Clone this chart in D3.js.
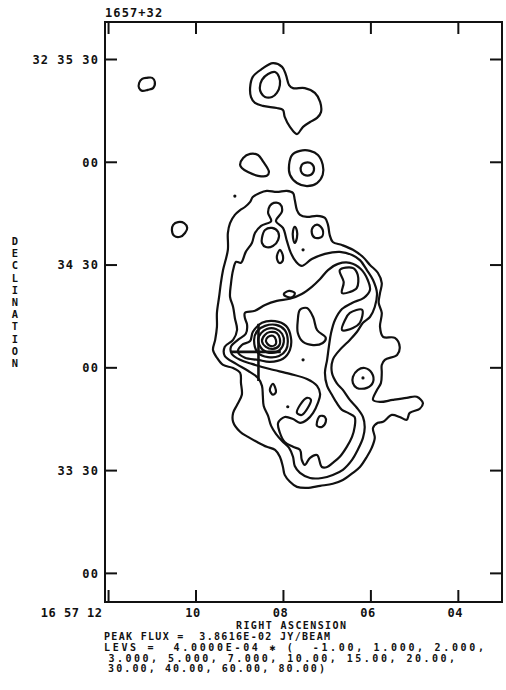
<!DOCTYPE html>
<html>
<head>
<meta charset="utf-8">
<script src="https://cdn.jsdelivr.net/npm/d3@7"></script>
<style>
body { margin: 0; background: #fff; }
text { font-family: "DejaVu Sans Mono", monospace; font-weight: bold; font-size: 10px; fill: #111; }
.lab { font-size: 12px; }
</style>
</head>
<body>
<div id="chart"></div>
<script>
// map extent: RA in seconds of 16h57m, Dec in arcsec from +32 33 00
const mapRA = [12.07, 2.99];
const mapDec = [-8.5, 160.8];

const raTicks = [12, 10, 8, 6, 4];
const raLabels = ["16 57 12", "10", "08", "06", "04"];
const decTicks = [150, 120, 90, 60, 30, 0];
const decLabels = ["32 35 30", "00", "34 30", "00", "33 30", "00"];

const title = "1657+32";
const yTitle = "DECLINATION";
const notes = [
  "RIGHT ASCENSION",
  "PEAK FLUX =  3.8616E-02 JY/BEAM",
  "LEVS =  4.0000E-04 \u2731 (  -1.00, 1.000, 2.000,",
  " 3.000, 5.000, 7.000, 10.00, 15.00, 20.00,",
  " 30.00, 40.00, 60.00, 80.00)"
];

// contours, [RA s, Dec arcsec]
const blobA = [[11.29,143.0],[11.22,144.2],[11.11,144.5],[10.99,144.5],[10.93,143.3],[10.97,141.5],[11.09,141.0],[11.22,140.7],[11.29,141.5]];
const blobB = [[10.54,100.1],[10.51,101.6],[10.40,102.4],[10.26,102.1],[10.19,100.7],[10.24,99.2],[10.35,98.1],[10.49,98.4]];
const northOuter = [[8.75,141.8],[8.69,144.8],[8.48,147.1],[8.23,148.8],[8.02,147.7],[7.93,145.3],[7.86,142.4],[7.77,141.5],[7.50,141.5],[7.27,140.1],[7.15,137.5],[7.13,134.5],[7.22,132.8],[7.38,131.6],[7.54,130.2],[7.68,128.1],[7.84,130.2],[7.96,133.1],[8.00,135.1],[8.14,135.7],[8.46,136.3],[8.64,137.2],[8.73,138.9]];
const northInner = [[8.53,141.5],[8.48,143.9],[8.34,145.6],[8.18,146.2],[8.09,144.8],[8.07,142.4],[8.14,140.1],[8.25,138.9],[8.41,138.9],[8.50,140.1]];
const blobE = [[8.98,119.1],[8.91,121.1],[8.75,122.3],[8.57,122.0],[8.46,120.2],[8.32,117.0],[8.37,115.9],[8.57,115.9],[8.80,117.0],[8.94,118.2]];
const ringOuter = [[7.86,119.1],[7.79,122.0],[7.61,123.2],[7.38,123.2],[7.20,122.0],[7.09,119.1],[7.09,116.2],[7.22,113.8],[7.45,112.9],[7.68,113.8],[7.84,116.2]];
const ringInner = [[7.57,119.1],[7.50,119.7],[7.34,119.4],[7.29,117.6],[7.36,116.2],[7.52,116.2],[7.59,117.3]];

const lev1 = [[9.26,99.2],[9.21,102.1],[9.10,104.5],[8.98,105.9],[8.87,106.8],[8.75,108.3],[8.69,109.7],[8.53,110.9],[8.37,111.5],[8.14,111.2],[7.91,111.5],[7.77,110.9],[7.73,108.9],[7.68,105.9],[7.61,104.5],[7.45,103.9],[7.22,104.2],[7.04,103.6],[6.97,101.6],[6.93,98.6],[6.86,96.6],[6.65,95.7],[6.40,94.3],[6.17,92.2],[6.01,89.9],[5.83,87.6],[5.74,84.6],[5.78,81.7],[5.81,78.8],[5.74,75.9],[5.78,71.8],[5.71,68.9],[5.44,68.6],[5.33,66.0],[5.39,63.6],[5.67,62.2],[5.74,60.7],[5.74,58.4],[5.76,55.4],[5.85,53.4],[5.94,50.5],[5.78,49.9],[5.49,50.5],[5.17,51.1],[4.94,51.4],[4.80,49.6],[4.87,47.9],[5.10,46.7],[5.17,44.7],[5.33,45.5],[5.51,46.1],[5.71,44.1],[5.83,43.8],[5.94,42.3],[5.90,39.4],[5.97,36.5],[6.08,33.9],[6.24,30.9],[6.40,29.2],[6.63,27.1],[6.86,26.0],[7.15,25.4],[7.45,24.8],[7.68,25.1],[7.84,26.6],[7.96,28.6],[8.00,30.9],[8.07,33.9],[8.18,35.9],[8.37,36.8],[8.59,38.2],[8.80,39.7],[8.98,41.2],[9.14,44.1],[9.14,46.7],[9.05,49.0],[8.94,52.0],[8.96,55.4],[8.98,58.4],[9.14,59.8],[9.37,60.7],[9.51,62.8],[9.60,65.1],[9.55,68.0],[9.51,71.8],[9.51,75.9],[9.46,80.6],[9.42,84.6],[9.37,88.4],[9.26,94.3]];
const lev2 = [[8.21,108.0],[8.07,107.7],[8.02,105.6],[8.16,102.7],[8.00,100.7],[7.91,96.9],[7.82,93.4],[7.70,90.8],[7.57,89.6],[7.34,91.6],[7.04,93.1],[6.70,93.7],[6.42,92.8],[6.24,91.3],[6.08,88.4],[5.94,85.5],[5.85,81.7],[5.90,77.6],[6.01,74.7],[6.17,73.0],[6.31,70.3],[6.47,68.0],[6.70,65.1],[6.86,62.2],[6.88,58.4],[6.77,55.4],[6.63,53.4],[6.47,50.5],[6.31,48.2],[6.17,45.5],[6.13,42.6],[6.17,39.4],[6.29,35.9],[6.42,33.0],[6.63,30.1],[6.86,28.6],[7.11,27.7],[7.38,27.7],[7.61,29.2],[7.73,31.2],[7.77,33.9],[7.86,36.5],[8.02,38.5],[8.16,40.6],[8.27,42.9],[8.34,45.8],[8.44,48.7],[8.46,51.7],[8.48,54.6],[8.57,56.9],[8.80,59.0],[9.07,61.0],[9.33,63.3],[9.33,66.0],[9.14,68.0],[9.05,70.9],[9.10,74.4],[9.14,77.6],[9.21,80.6],[9.19,84.3],[9.14,88.4],[9.07,90.8],[8.96,90.5],[8.85,93.7],[8.71,96.3],[8.64,99.2],[8.50,101.3],[8.27,102.7],[8.34,105.1],[8.30,107.1]];
const lev3 = [[8.87,75.9],[8.64,76.5],[8.41,78.2],[8.14,79.4],[7.84,80.0],[7.57,81.4],[7.34,83.5],[7.15,85.8],[6.97,88.4],[6.74,90.2],[6.47,90.5],[6.22,88.7],[6.06,85.5],[6.01,82.6],[6.15,80.3],[6.42,78.8],[6.65,77.0],[6.81,73.8],[6.90,70.0],[6.95,66.0],[6.99,62.2],[7.04,58.4],[6.99,54.6],[6.88,52.0],[6.77,49.6],[6.65,47.6],[6.51,46.7],[6.36,45.5],[6.36,42.6],[6.42,39.7],[6.54,36.8],[6.70,33.9],[6.86,32.1],[6.99,30.9],[7.11,30.9],[7.22,34.4],[7.38,33.6],[7.50,31.5],[7.57,33.0],[7.61,35.9],[7.77,36.8],[7.96,38.2],[8.07,40.9],[8.11,43.8],[7.96,45.5],[7.77,44.9],[7.61,43.8],[7.45,44.7],[7.31,46.7],[7.20,49.6],[7.15,52.2],[7.22,54.6],[7.45,56.6],[7.84,58.1],[8.30,59.5],[8.71,61.0],[8.98,62.2],[9.17,63.9],[9.19,66.0],[9.03,68.0],[8.85,69.8],[8.82,72.4],[8.87,74.4]];

const bean = [[8.48,97.8],[8.41,100.1],[8.25,100.7],[8.11,99.5],[8.11,97.2],[8.23,95.4],[8.39,95.1],[8.48,96.3]];
const slit = [[7.73,101.0],[7.68,99.8],[7.68,97.8],[7.73,96.3],[7.77,97.8],[7.77,99.8]];
const knot = [[7.31,101.0],[7.20,101.6],[7.09,100.1],[7.11,98.1],[7.27,97.8],[7.34,99.2]];
const drop = [[8.07,94.3],[8.00,92.5],[8.02,90.8],[8.09,90.5],[8.14,92.2]];
const dLoop = [[6.70,88.4],[6.40,89.0],[6.29,87.0],[6.31,83.2],[6.47,82.0],[6.65,81.7],[6.61,84.9]];
const diamond = [[6.58,73.8],[6.47,75.9],[6.19,76.8],[6.24,73.0],[6.40,71.5],[6.65,70.9]];
const eastRing = [[6.40,57.2],[6.29,59.2],[6.13,59.8],[5.97,58.4],[5.94,55.7],[6.08,54.0],[6.31,54.0],[6.40,55.4]];
const hole = [[7.61,76.8],[7.45,77.3],[7.31,74.7],[7.22,70.9],[7.02,68.6],[7.09,67.1],[7.31,66.5],[7.54,67.4],[7.66,70.0],[7.66,73.8]];
const dash = [[7.98,81.4],[7.86,82.3],[7.73,81.7],[7.77,80.6],[7.91,80.6]];
const southOval = [[7.68,46.7],[7.61,49.0],[7.45,51.1],[7.36,50.5],[7.43,48.2],[7.57,46.1]];
const southLoop = [[7.22,44.1],[7.15,45.8],[7.04,45.5],[7.02,44.1],[7.11,42.6],[7.22,42.9]];
const southDrop = [[8.30,53.4],[8.23,55.2],[8.16,52.8],[8.23,52.0]];
const core1 = [[9.03,64.5],[8.94,66.5],[8.75,67.7],[8.69,70.3],[8.48,73.0],[8.18,73.5],[7.93,72.1],[7.82,68.9],[7.84,65.1],[8.00,62.5],[8.30,61.6],[8.57,62.2],[8.87,62.8]];
const core2 = [[8.66,68.0],[8.59,70.6],[8.41,72.1],[8.16,72.4],[7.96,70.9],[7.89,68.0],[7.93,65.1],[8.09,63.3],[8.34,63.0],[8.57,64.2]];
const core3 = [[8.57,68.0],[8.50,70.0],[8.37,71.2],[8.16,71.2],[8.02,69.8],[7.98,67.4],[8.07,65.1],[8.25,64.2],[8.46,65.1]];
const core4 = [[8.48,67.7],[8.41,69.5],[8.30,70.3],[8.14,70.0],[8.07,68.3],[8.09,66.3],[8.23,65.4],[8.39,66.0]];
const core5 = [[8.39,67.7],[8.34,68.9],[8.23,69.2],[8.16,68.0],[8.18,66.5],[8.30,66.3]];

const dots = [[9.10,110.0],[7.54,94.3],[7.54,62.2],[7.89,48.5],[6.17,56.9]];

// optical position marker
const crossRA = [9.19, 8.05];
const crossDec = [72.7, 56.0];
const crossAt = [8.56, 64.5];

const contours = [blobA, blobB, northOuter, northInner, blobE, ringOuter, ringInner,
  lev1, lev2, lev3, bean, slit, knot, drop, dLoop, diamond, eastRing, hole, dash,
  southOval, southLoop, southDrop, core1, core2, core3, core4, core5];

const W = 506, H = 690;
const frame = { left: 105, right: 502, top: 22, bottom: 602 };
const ink = "#111";

const svg = d3.select("#chart").append("svg").attr("width", W).attr("height", H);

const x = d3.scaleLinear().domain(mapRA).range([frame.left, frame.right]);
const y = d3.scaleLinear().domain(mapDec).range([frame.bottom, frame.top]);

const line = d3.line()
  .x(d => x(d[0]))
  .y(d => y(d[1]))
  .curve(d3.curveCatmullRomClosed.alpha(0.5));

svg.append("g")
  .selectAll("path")
  .data(contours)
  .join("path")
  .attr("d", line)
  .attr("fill", "none")
  .attr("stroke", ink)
  .attr("stroke-width", 2.2)
  .attr("stroke-linejoin", "round");

svg.append("g")
  .selectAll("circle")
  .data(dots)
  .join("circle")
  .attr("cx", d => x(d[0]))
  .attr("cy", d => y(d[1]))
  .attr("r", 1.6)
  .attr("fill", ink);

svg.append("line")
  .attr("x1", x(crossRA[0])).attr("x2", x(crossRA[1]))
  .attr("y1", y(crossAt[1])).attr("y2", y(crossAt[1]))
  .attr("stroke", ink).attr("stroke-width", 2.6);
svg.append("line")
  .attr("x1", x(crossAt[0])).attr("x2", x(crossAt[0]))
  .attr("y1", y(crossDec[0])).attr("y2", y(crossDec[1]))
  .attr("stroke", ink).attr("stroke-width", 2.6);

// frame + ticks
svg.append("rect")
  .attr("x", frame.left).attr("y", frame.top)
  .attr("width", frame.right - frame.left).attr("height", frame.bottom - frame.top)
  .attr("fill", "none").attr("stroke", ink).attr("stroke-width", 2);

const axBottom = svg.append("g")
  .attr("transform", `translate(0,${frame.bottom})`)
  .call(d3.axisBottom(x).tickValues(raTicks).tickSize(-12).tickFormat((d, i) => raLabels[i]));
const axTop = svg.append("g")
  .attr("transform", `translate(0,${frame.top})`)
  .call(d3.axisTop(x).tickValues(raTicks).tickSize(-12).tickFormat(""));
const axLeft = svg.append("g")
  .attr("transform", `translate(${frame.left},0)`)
  .call(d3.axisLeft(y).tickValues(decTicks).tickSize(-12).tickFormat((d, i) => decLabels[i]));
const axRight = svg.append("g")
  .attr("transform", `translate(${frame.right},0)`)
  .call(d3.axisRight(y).tickValues(decTicks).tickSize(-12).tickFormat(""));

[axBottom, axTop, axLeft, axRight].forEach(g => {
  g.select(".domain").remove();
  g.selectAll(".tick line").attr("stroke", ink).attr("stroke-width", 2);
});

axBottom.selectAll("text")
  .attr("class", "lab")
  .attr("y", 15).attr("dy", 0)
  .attr("letter-spacing", 0.5)
  .attr("text-anchor", (d, i) => i === 0 ? "end" : "middle")
  .attr("dx", (d, i) => i === 0 ? -6 : -3);
axLeft.selectAll("text")
  .attr("class", "lab")
  .attr("letter-spacing", 1.1)
  .attr("x", -6).attr("dy", "0.36em");

svg.append("text")
  .attr("class", "lab")
  .attr("letter-spacing", 1.1)
  .attr("x", frame.left).attr("y", 17)
  .text(title);

// stacked axis title
svg.append("g")
  .selectAll("text")
  .data(yTitle.split(""))
  .join("text")
  .attr("x", 15)
  .attr("y", (d, i) => 245 + i * 12.2)
  .attr("text-anchor", "middle")
  .style("font-size", "10.4px")
  .text(d => d);

// note block: start x, width, baseline
const noteLayout = [[236, 110, 629], [104, 226, 640], [104, 380, 651], [100, 355, 661.5], [100, 225, 672]];
svg.append("g")
  .selectAll("text")
  .data(notes)
  .join("text")
  .attr("x", (d, i) => noteLayout[i][0])
  .attr("y", (d, i) => noteLayout[i][2])
  .attr("textLength", (d, i) => noteLayout[i][1])
  .attr("lengthAdjust", "spacing")
  .style("white-space", "pre")
  .text(d => d);
</script>
</body>
</html>
